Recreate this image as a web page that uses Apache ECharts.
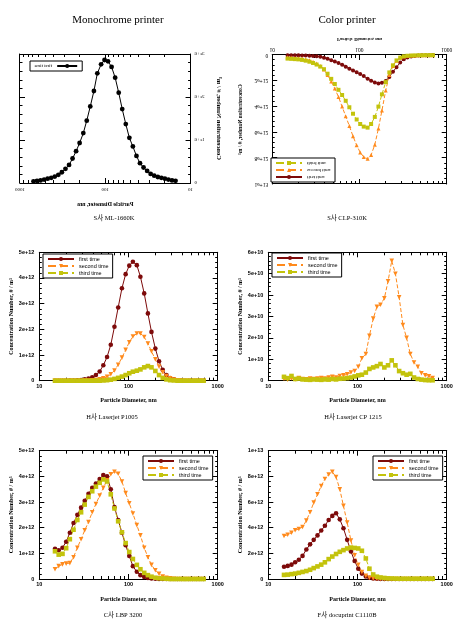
<!DOCTYPE html>
<html><head><meta charset="utf-8">
<script src="https://cdn.jsdelivr.net/npm/echarts@6/dist/echarts.min.js"></script>
<style>
html,body{margin:0;padding:0;background:#fff;}
#main{position:absolute;left:0;top:0;width:463px;height:621px;}
#mono{position:absolute;left:0;top:30px;width:230px;height:185px;transform:scaleX(-1);}
#color{position:absolute;left:230px;top:30px;width:233px;height:175px;transform:scaleY(-1);}
</style></head><body>
<div id="main"></div><div id="mono"></div><div id="color"></div>
<script>
// ---------------- DATA ----------------
const diam = [15.0,16.5,18.2,20.0,22.0,24.2,26.7,29.4,32.3,35.6,
              39.2,43.1,47.5,52.2,57.5,63.3,69.6,76.6,84.4,92.9,
              102,112,124,136,150,165,181,200,220,242,
              266,293,323,355,391,430,474,521,574,632,
              695];
const xMajorTicks = [10,100,1000];
const xMinorTicks = [20,30,40,50,60,70,80,90,200,300,400,500,600,700,800,900];
const seriesNames = ['first time','second time','third time'];
const pageTitles = ['Monochrome printer','Color printer'];
const captions = ['S사 ML-1660K','S사 CLP-310K','H사 Laserjet P1005','H사 Laserjet CP 1215','C사 LBP 3200','F사 docuprint C1110B'];

// S사 ML-1660K (units 1e6)
const ml1660_first_e6 = [0.05,0.06,0.08,0.10,0.12,0.14,0.17,0.21,0.28,0.36,
  0.46,0.63,0.85,1.05,1.37,1.72,2.10,2.45,2.70,2.83,
  2.86,2.76,2.55,2.14,1.78,1.45,1.16,0.93,0.74,0.57,
  0.42,0.33,0.25,0.19,0.15,0.12,0.10,0.08,0.06,0.05,
  0.04];
// S사 CLP-310K (units 1e12)
const clp310_first_e12 = [0.01,0.01,0.02,0.02,0.03,0.04,0.05,0.07,0.09,0.14,
  0.22,0.30,0.40,0.50,0.62,0.76,0.91,1.06,1.20,1.34,
  1.48,1.63,1.84,2.00,2.14,2.20,2.15,2.02,1.70,1.30,
  0.95,0.58,0.33,0.20,0.12,0.07,0.04,0.02,0.01,0.01,
  0.00];
const clp310_second_e12 = [0.18,0.20,0.23,0.25,0.28,0.33,0.40,0.52,0.66,0.85,
  1.12,1.55,2.05,2.60,3.25,4.00,4.75,5.50,6.30,7.00,
  7.55,7.90,8.05,7.75,6.95,5.70,4.30,2.75,1.55,0.85,
  0.45,0.22,0.11,0.06,0.04,0.03,0.02,0.02,0.01,0.01,
  0.01];
const clp310_third_e12 = [0.28,0.30,0.32,0.34,0.38,0.44,0.52,0.62,0.74,0.90,
  1.10,1.45,1.85,2.25,2.70,3.10,3.55,4.05,4.55,5.00,
  5.35,5.55,5.63,5.35,4.80,4.00,3.05,2.10,1.35,0.80,
  0.42,0.20,0.10,0.06,0.04,0.03,0.02,0.02,0.01,0.01,
  0.01];
// H사 Laserjet P1005 (units 1e12)
const p1005_first_e12 = [0,0,0,0,0.01,0.01,0.02,0.03,0.05,0.08,
  0.13,0.22,0.36,0.60,0.92,1.40,2.10,2.85,3.60,4.15,
  4.48,4.63,4.50,4.05,3.40,2.62,1.90,1.25,0.76,0.42,
  0.22,0.10,0.05,0.02,0.01,0,0,0,0,0,
  0];
const p1005_second_e12 = [0,0,0,0,0,0,0,0,0.01,0.01,
  0.02,0.03,0.05,0.09,0.15,0.25,0.40,0.62,0.90,1.20,
  1.50,1.72,1.84,1.84,1.70,1.45,1.14,0.83,0.55,0.33,
  0.18,0.09,0.04,0.02,0.01,0,0,0,0,0,
  0];
const p1005_third_e12 = [0,0,0,0,0,0,0,0,0,0,
  0,0,0,0.01,0.02,0.04,0.07,0.11,0.16,0.22,
  0.29,0.35,0.39,0.44,0.52,0.57,0.52,0.38,0.22,0.11,
  0.05,0.02,0.01,0,0,0,0,0,0,0,
  0];
// H사 Laserjet CP 1215 (units 1e10)
const cp1215_first_e10 = [];
const cp1215_second_e10 = [0.08,0.05,0.10,0.06,0.12,0.08,0.06,0.10,0.08,0.10,
  0.12,0.10,0.15,0.18,0.15,0.22,0.25,0.30,0.38,0.45,
  0.65,1.05,1.25,2.10,2.90,3.45,3.55,3.85,4.65,5.60,
  5.00,3.90,2.60,2.00,1.25,0.85,0.65,0.35,0.25,0.20,
  0.12];
const cp1215_third_e10 = [0.18,0.12,0.22,0.08,0.10,0.06,0.05,0.04,0.06,0.05,
  0.04,0.06,0.05,0.08,0.06,0.09,0.10,0.12,0.15,0.20,
  0.25,0.28,0.38,0.55,0.62,0.68,0.78,0.62,0.72,0.95,
  0.72,0.45,0.35,0.28,0.32,0.15,0.08,0.05,0.03,0.02,
  0.02];
// C사 LBP 3200 (units 1e12)
const lbp3200_first_e12 = [1.18,1.12,1.22,1.45,1.80,2.18,2.50,2.78,3.05,3.32,
  3.55,3.72,3.90,4.05,4.00,3.50,2.80,2.30,1.80,1.32,
  0.90,0.50,0.28,0.15,0.08,0.04,0.02,0.01,0,0,
  0,0,0,0,0,0,0,0,0,0,
  0];
const lbp3200_second_e12 = [0.38,0.50,0.57,0.60,0.62,0.85,1.22,1.55,1.90,2.22,
  2.60,2.92,3.25,3.55,3.85,4.08,4.18,4.10,3.80,3.35,
  2.95,2.55,2.10,1.70,1.22,0.85,0.55,0.34,0.20,0.10,
  0.05,0.03,0.01,0,0,0,0,0,0,0,
  0];
const lbp3200_third_e12 = [1.08,0.95,0.98,1.20,1.55,1.92,2.30,2.60,2.90,3.20,
  3.42,3.60,3.75,3.88,3.80,3.30,2.75,2.25,1.82,1.40,
  1.05,0.78,0.55,0.38,0.24,0.15,0.09,0.05,0.03,0.02,
  0.01,0,0,0,0,0,0,0,0,0,
  0];
// F사 docuprint C1110B (units 1e12)
const c1110b_first_e12 = [0.95,1.02,1.12,1.30,1.50,1.80,2.30,2.70,3.05,3.40,
  3.78,4.15,4.60,4.92,5.12,4.65,3.95,3.05,2.15,1.40,
  0.80,0.42,0.20,0.10,0.04,0.02,0.01,0,0,0,
  0,0,0,0,0,0,0,0,0,0,
  0];
const c1110b_second_e12 = [3.35,3.45,3.60,3.80,3.90,4.05,4.55,5.20,5.95,6.60,
  7.25,7.80,8.15,8.35,7.95,7.00,5.70,4.40,3.00,1.85,
  1.10,0.55,0.24,0.10,0.05,0.02,0.01,0,0,0,
  0,0,0,0,0,0,0,0,0,0,
  0];
const c1110b_third_e12 = [0.32,0.34,0.38,0.42,0.48,0.55,0.62,0.72,0.85,0.98,
  1.12,1.30,1.55,1.75,1.95,2.12,2.25,2.38,2.45,2.42,
  2.38,2.20,1.60,0.80,0.35,0.18,0.12,0.08,0.05,0.04,
  0.03,0.02,0.02,0.02,0.02,0.02,0.02,0.02,0.02,0.02,
  0.02];

// ---------------- STYLE ----------------
const SERIF = "'Liberation Serif','Noto Sans CJK KR',serif";
const SANS = "'Liberation Sans','Noto Sans CJK KR',sans-serif";
const STY = {
  'first time':  {color:'#7d0a0a', symbol:'circle', rot:0,   line:'solid'},
  'second time': {color:'#ff8a1c', symbol:'triangle', rot:180, line:'dashed'},
  'third time':  {color:'#c3c30c', symbol:'rect', rot:0,   line:'dashed'}
};
const yName = 'Concentration Number, # / m³';
const xName = 'Particle Diameter, nm';

function fmtExp(v){ return v === 0 ? '0' : v.toExponential(); }

function buildAxes(g, yMax, yInt, S){
  const xs = [], ys = [];
  const bx = {gridIndex:g, type:'log', logBase:10, min:10, max:1000, splitLine:{show:false}, minorSplitLine:{show:false}};
  xs.push(Object.assign({}, bx, {position:'bottom',
    axisLine:{onZero:false, lineStyle:{color:'#000', width:1}},
    axisTick:{inside:true, length:5, customValues:xMajorTicks, lineStyle:{color:'#000'}},
    axisLabel:{customValues:xMajorTicks, color:'#000', margin:S.xLabMargin, fontSize:S.lab.fontSize, fontFamily:S.lab.fontFamily, fontWeight:S.lab.fontWeight, formatter:v=>String(Math.round(v))},
    name:xName, nameLocation:'middle', nameGap:S.xNameGap,
    nameTextStyle:Object.assign({color:'#000'}, S.xName)}));
  xs.push(Object.assign({}, bx, {position:'bottom',
    axisLine:{show:false, onZero:false},
    axisTick:{inside:true, length:3, customValues:xMinorTicks, lineStyle:{color:'#000'}},
    axisLabel:{show:false}}));
  xs.push(Object.assign({}, bx, {position:'top',
    axisLine:{onZero:false, lineStyle:{color:'#000', width:1}},
    axisTick:{inside:true, length:5, customValues:xMajorTicks, lineStyle:{color:'#000'}},
    axisLabel:{show:false}}));
  xs.push(Object.assign({}, bx, {position:'top',
    axisLine:{show:false, onZero:false},
    axisTick:{inside:true, length:3, customValues:xMinorTicks, lineStyle:{color:'#000'}},
    axisLabel:{show:false}}));
  const by = {gridIndex:g, type:'value', min:0, max:yMax, interval:yInt, splitLine:{show:false}, minorSplitLine:{show:false},
    minorTick:{show:true, splitNumber:5, length:2.5, lineStyle:{color:'#000'}}};
  ys.push(Object.assign({}, by, {position:'left',
    axisLine:{show:true, onZero:false, lineStyle:{color:'#000', width:1}},
    axisTick:{show:true, inside:true, length:5, lineStyle:{color:'#000'}},
    axisLabel:{color:'#000', margin:S.yLabMargin, fontSize:S.lab.fontSize, fontFamily:S.lab.fontFamily, fontWeight:S.lab.fontWeight, formatter:fmtExp},
    name:yName, nameLocation:'middle', nameGap:S.yNameGap, nameRotate:90,
    nameTextStyle:Object.assign({color:'#000'}, S.yName)}));
  ys.push(Object.assign({}, by, {position:'right',
    axisLine:{show:true, onZero:false, lineStyle:{color:'#000', width:1}},
    axisTick:{show:true, inside:true, length:5, lineStyle:{color:'#000'}},
    axisLabel:{show:false}}));
  return {xs, ys};
}

function mkSeries(name, vals, unit, g, symSize, colorOverride){
  const st = STY[name];
  const c = colorOverride || st.color;
  return {type:'line', name:name, xAxisIndex:g*4, yAxisIndex:g*2,
    data: vals.map((v,i)=>[diam[i], v*unit]),
    symbol:st.symbol, symbolRotate:st.rot, symbolSize:symSize, showSymbol:true, showAllSymbol:true,
    itemStyle:{color:c}, lineStyle:{color:c, width:1, type:st.line},
    animation:false, silent:true};
}

function mkLegend(left, top, names, extra){
  return Object.assign({left:left, top:top, orient:'vertical', data:names, selectedMode:false,
    borderColor:'#000', borderWidth:1, borderRadius:0, padding:[2,4,2,4], itemGap:1,
    itemWidth:26, itemHeight:5, backgroundColor:'#fff',
    textStyle:{fontSize:5.5, fontFamily:SANS, color:'#000', lineHeight:6}}, extra||{});
}

const lowerStyle = {
  lab:{fontSize:5.5, fontFamily:SANS, fontWeight:'bold'},
  xName:{fontSize:6, fontFamily:SERIF, fontWeight:'bold'}, xNameGap:17, xLabMargin:3,
  yName:{fontSize:6, fontFamily:SERIF, fontWeight:'bold'}, yNameGap:25, yLabMargin:5
};

// ---------------- MAIN CHART ----------------
const main = echarts.init(document.getElementById('main'), null, {renderer:'canvas'});
const grids = [
  {left:39.3, top:252.3, width:178.4, height:128.4},
  {left:268.3, top:252.3, width:178.4, height:128.4},
  {left:39.3, top:450.7, width:178.4, height:128.3},
  {left:268.3, top:450.7, width:178.4, height:128.3}
];
const panelY = [[5e12,1e12],[6e10,1e10],[5e12,1e12],[1e13,2e12]];
let xAxes = [], yAxes = [];
panelY.forEach((p,g)=>{ const a = buildAxes(g, p[0], p[1], lowerStyle); xAxes = xAxes.concat(a.xs); yAxes = yAxes.concat(a.ys); });

const SZ = 4.6;
const series = [
  mkSeries('first time', p1005_first_e12, 1e12, 0, SZ),
  mkSeries('second time', p1005_second_e12, 1e12, 0, SZ),
  mkSeries('third time', p1005_third_e12, 1e12, 0, SZ),
  mkSeries('first time', cp1215_first_e10, 1e10, 1, SZ),
  mkSeries('second time', cp1215_second_e10, 1e10, 1, SZ),
  mkSeries('third time', cp1215_third_e10, 1e10, 1, SZ),
  mkSeries('first time', lbp3200_first_e12, 1e12, 2, SZ),
  mkSeries('second time', lbp3200_second_e12, 1e12, 2, SZ),
  mkSeries('third time', lbp3200_third_e12, 1e12, 2, SZ),
  mkSeries('first time', c1110b_first_e12, 1e12, 3, SZ),
  mkSeries('second time', c1110b_second_e12, 1e12, 3, SZ),
  mkSeries('third time', c1110b_third_e12, 1e12, 3, SZ)
];

function txt(t, x, y, font){
  return {type:'text', x:x, y:y, silent:true, style:{text:t, font:font, fill:'#000', align:'center', verticalAlign:'middle'}};
}
const capFont = "6.5px " + SERIF;
main.setOption({
  animation:false,
  grid: grids,
  xAxis: xAxes,
  yAxis: yAxes,
  legend: [
    mkLegend(43, 254, seriesNames),
    mkLegend(272, 253, seriesNames),
    mkLegend(143, 456, seriesNames),
    mkLegend(373, 456, seriesNames)
  ],
  series: series,
  graphic: [
    txt(pageTitles[0], 118, 20, "11px " + SERIF),
    txt(pageTitles[1], 347, 20, "11px " + SERIF),
    txt(captions[0], 114, 218, capFont),
    txt(captions[1], 347, 218, capFont),
    txt(captions[2], 112, 417, capFont),
    txt(captions[3], 353, 417, capFont),
    txt(captions[4], 123, 615, capFont),
    txt(captions[5], 347, 615, capFont)
  ]
});

// ---------------- MONOCHROME (mirrored) ----------------
const monoStyle = {
  lab:{fontSize:5, fontFamily:SERIF, fontWeight:'normal'},
  xName:{fontSize:6, fontFamily:SERIF, fontWeight:'bold'}, xNameGap:18, xLabMargin:4,
  yName:{fontSize:6.5, fontFamily:SERIF, fontWeight:'bold'}, yNameGap:19, yLabMargin:4
};
const mono = echarts.init(document.getElementById('mono'));
const ma = buildAxes(0, 3e6, 1e6, monoStyle);
mono.setOption({
  animation:false,
  grid:[{left:30, top:24, width:180, height:129}],
  xAxis: ma.xs, yAxis: ma.ys,
  legend:[mkLegend(null, 31, ['first time'], {right:30, textStyle:{fontSize:5, fontFamily:SERIF, color:'#000', lineHeight:6}, itemWidth:20})],
  series:[mkSeries('first time', ml1660_first_e6, 1e6, 0, 4.8, '#000')]
});

// ---------------- COLOR (flipped vertically) ----------------
const colorStyle = {
  lab:{fontSize:5.5, fontFamily:SERIF, fontWeight:'normal'},
  xName:{fontSize:4.8, fontFamily:SERIF, fontWeight:'bold'}, xNameGap:13, xLabMargin:3,
  yName:{fontSize:5.5, fontFamily:SERIF, fontWeight:'bold'}, yNameGap:25, yLabMargin:4
};
const color = echarts.init(document.getElementById('color'));
const ca = buildAxes(0, 1e13, 2e12, colorStyle);
color.setOption({
  animation:false,
  grid:[{left:38.3, top:21, width:178.4, height:129}],
  xAxis: ca.xs, yAxis: ca.ys,
  legend:[mkLegend(41, 23, seriesNames, {textStyle:{fontSize:5, fontFamily:SERIF, color:'#000', lineHeight:6}})],
  series:[
    mkSeries('first time', clp310_first_e12, 1e12, 0, 4),
    mkSeries('second time', clp310_second_e12, 1e12, 0, 4),
    mkSeries('third time', clp310_third_e12, 1e12, 0, 4)
  ]
});
</script>
</body></html>
